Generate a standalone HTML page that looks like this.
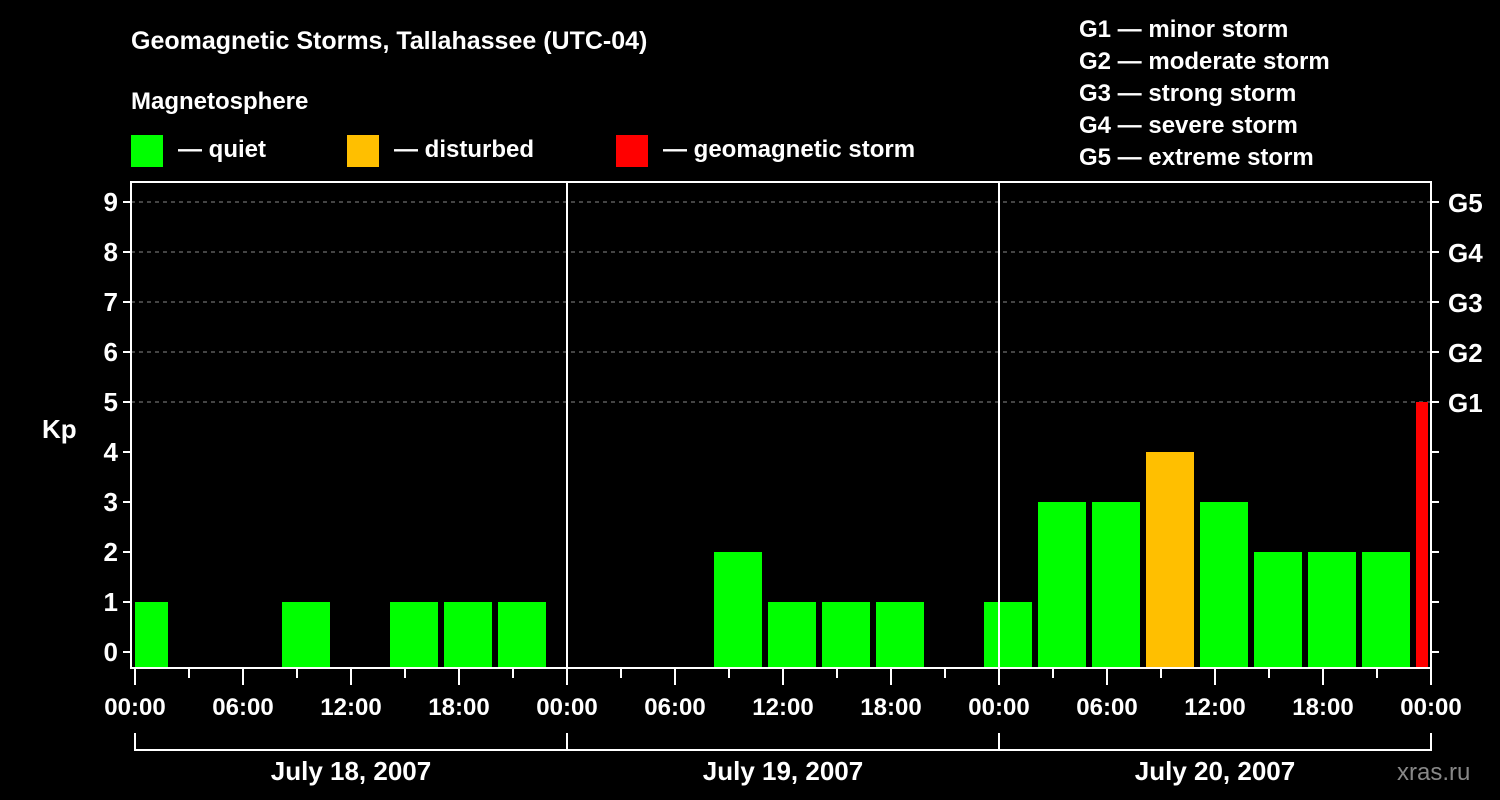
<!DOCTYPE html>
<html><head><meta charset="utf-8"><style>
body{margin:0;background:#000;}
svg{display:block;font-family:"Liberation Sans",Arial,sans-serif;font-weight:bold;}
</style></head><body>
<svg id="chart" width="1500" height="800" viewBox="0 0 1500 800">
<rect width="1500" height="800" fill="#000"/>
<text x="131" y="49" fill="#fff" font-size="25">Geomagnetic Storms, Tallahassee (UTC-04)</text>
<text x="131" y="109" fill="#fff" font-size="24">Magnetosphere</text>
<g><rect x="131" y="135" width="32" height="32" fill="#00ff00"/><text x="178" y="157" fill="#fff" font-size="24">— quiet</text></g>
<g><rect x="347" y="135" width="32" height="32" fill="#ffbf00"/><text x="394" y="157" fill="#fff" font-size="24">— disturbed</text></g>
<g><rect x="616" y="135" width="32" height="32" fill="#ff0000"/><text x="663" y="157" fill="#fff" font-size="24">— geomagnetic storm</text></g>
<g fill="#fff" font-size="24">
<text x="1079" y="37">G1 — minor storm</text>
<text x="1079" y="69">G2 — moderate storm</text>
<text x="1079" y="101">G3 — strong storm</text>
<text x="1079" y="133">G4 — severe storm</text>
<text x="1079" y="165">G5 — extreme storm</text>
</g>
<text x="42" y="438" fill="#fff" font-size="26">Kp</text>
<text x="1397" y="780" fill="#888" font-size="24" font-weight="normal">xras.ru</text>
<g id="grid"></g><g id="bars"></g><g id="axes"></g>
</svg>
<script>
const kpValues=[1,0,0,1,0,1,1,1,0, 0,0,2,1,1,1,0,1, 3,3,4,3,2,2,2,5];
const dayLabels=["July 18, 2007","July 19, 2007","July 20, 2007"];
const hourLabels=["00:00","06:00","12:00","18:00"];
const yTicks=[0,1,2,3,4,5,6,7,8,9];
const gLabels=["G1","G2","G3","G4","G5"];
const firstSlotHour=-1; // local hour of first 3h Kp interval start (UTC-04)

const NS="http://www.w3.org/2000/svg";
const X0=135,X1=1431,L=131,R=1431,T=182,B=668;
const hours=24*dayLabels.length;
const x=h=>X0+(X1-X0)*h/hours;
const y=v=>652-50*v;
function mk(tag,attrs,parent,txt){const e=document.createElementNS(NS,tag);for(const k in attrs)e.setAttribute(k,attrs[k]);if(txt!==undefined)e.textContent=txt;parent.appendChild(e);return e;}
const grid=document.getElementById('grid'),bars=document.getElementById('bars'),axes=document.getElementById('axes');
// grid lines
yTicks.forEach(v=>{if(v>=5){const g=mk('line',{x1:L,x2:R,y1:y(v),y2:y(v),stroke:'#888','stroke-dasharray':'4,4','stroke-width':1},grid);

}});
// bars
kpValues.forEach((v,i)=>{if(v<=0)return;
let h0=firstSlotHour+3*i,h1=h0+3;
let a=Math.max(x(h0)+3,X0),b=Math.min(x(h1)-3,X1-3);
const c=v>=5?'#ff0000':(v>=4?'#ffbf00':'#00ff00');
const r=mk('rect',{x:a,y:y(v),width:b-a,height:B-y(v),fill:c},bars);

});
// frame
const f=mk('rect',{x:L,y:T,width:R-L,height:B-T,fill:'none',stroke:'#fff','stroke-width':2},axes);


// day separators
for(let d=1;d<dayLabels.length;d++){const l=mk('line',{x1:x(24*d),x2:x(24*d),y1:T,y2:B,stroke:'#fff','stroke-width':2},axes);

}
// y ticks
yTicks.forEach(v=>{mk('line',{x1:L-8,x2:L,y1:y(v),y2:y(v),stroke:'#fff','stroke-width':2},axes);
mk('line',{x1:R,x2:R+8,y1:y(v),y2:y(v),stroke:'#fff','stroke-width':2},axes);
const t=mk('text',{x:L-13,y:y(v)+9,fill:'#fff','font-size':26,'text-anchor':'end'},axes,String(v));

});
gLabels.forEach((g,i)=>{const t=mk('text',{x:R+17,y:y(5+i)+10,fill:'#fff','font-size':26},axes,g);

});
// x ticks
for(let h=0;h<=hours;h+=3){const major=h%6===0;
mk('line',{x1:x(h),x2:x(h),y1:B,y2:B+(major?17:10),stroke:'#fff','stroke-width':2},axes);
if(major){const t=mk('text',{x:x(h),y:715,fill:'#fff','font-size':24,'text-anchor':'middle'},axes,hourLabels[(h/6)%4]);

}}
// day brackets
dayLabels.forEach((d,i)=>{const a=x(24*i),b=x(24*(i+1));
mk('path',{d:`M${a},733V750H${b}V733`,fill:'none',stroke:'#fff','stroke-width':2},axes);
const t=mk('text',{x:(a+b)/2,y:780,fill:'#fff','font-size':26,'text-anchor':'middle'},axes,d);

});
</script>
</body></html>
